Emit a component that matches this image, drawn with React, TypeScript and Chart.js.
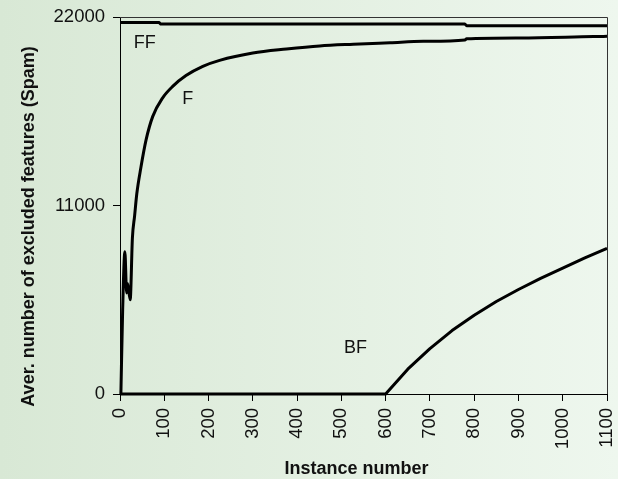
import React, { useEffect, useRef } from "react";
import { Chart, registerables } from "chart.js";

Chart.register(...registerables);

// ---- data ----
const xTickValues = [0, 100, 200, 300, 400, 500, 600, 700, 800, 900, 1000, 1100];
const yTickValues = [0, 11000, 22000];

const ffX = [0, 88, 92, 779, 783, 1100];
const ffY = [21680, 21680, 21590, 21590, 21490, 21490];

const fX = [2, 6, 11, 15, 17, 23, 28, 33, 38, 47, 59, 74, 96, 119, 149, 187, 225, 300, 376, 451, 527, 610, 685, 779, 783, 904, 1070, 1100];
const fY = [0, 4900, 8300, 5900, 6450, 5500, 9100, 10400, 11700, 13190, 14840, 16200, 17270, 17950, 18580, 19120, 19470, 19900, 20130, 20310, 20410, 20500, 20580, 20660, 20730, 20780, 20860, 20870];

const bfX = [0, 600, 650, 700, 750, 800, 850, 900, 950, 1000, 1050, 1100];
const bfY = [0, 0, 1450, 2650, 3700, 4600, 5400, 6100, 6750, 7350, 7950, 8500];

const seriesNames = ["FF", "F", "BF"];
const labelX = [56, 153, 532];
const labelY = [20470, 17230, 2660];

const xTitle = "Instance number";
const yTitle = "Aver. number of excluded features (Spam)";

const FONT = '"Liberation Sans", Arial, Helvetica, sans-serif';

export default function App() {
  const ref = useRef<HTMLCanvasElement>(null);

  useEffect(() => {
    document.body.style.margin = "0";
    const canvas = ref.current!;
    const pts = (xs: number[], ys: number[]) => xs.map((x, i) => ({ x, y: ys[i] }));

    const bgPlugin = {
      id: "bgFill",
      beforeDraw(chart: any) {
        const { ctx, width, height } = chart;
        const g = ctx.createLinearGradient(0, 0, width, 0);
        g.addColorStop(0, "#d8e8d5");
        g.addColorStop(1, "#eef7ee");
        ctx.save();
        ctx.fillStyle = g;
        ctx.fillRect(0, 0, width, height);
        ctx.restore();
      },
    };

    const decoPlugin = {
      id: "deco",
      afterDatasetsDraw(chart: any) {
        const { ctx, chartArea: a, scales } = chart;
        ctx.save();
        ctx.strokeStyle = "#333";
        ctx.lineWidth = 1;
        ctx.beginPath();
        ctx.moveTo(a.left, a.top + 0.5);
        ctx.lineTo(a.right + 0.5, a.top + 0.5);
        ctx.lineTo(a.right + 0.5, a.bottom);
        ctx.stroke();

        ctx.fillStyle = "#111";
        ctx.textAlign = "center";
        ctx.textBaseline = "middle";
        ctx.font = `18px ${FONT}`;
        seriesNames.forEach((n, i) => {
          ctx.fillText(n, scales.x.getPixelForValue(labelX[i]), scales.y.getPixelForValue(labelY[i]));
        });

        ctx.font = `bold 18px ${FONT}`;
        ctx.fillText(xTitle, (a.left + a.right) / 2 - 7, chart.height - 10);
        ctx.translate(29, (a.top + a.bottom) / 2 + 21);
        ctx.rotate(-Math.PI / 2);
        ctx.fillText(yTitle, 0, 0);
        ctx.restore();
      },
    };

    const lineDs = (label: string, data: any[], smooth: boolean) => ({
      label,
      data,
      borderColor: "#000",
      borderWidth: 3,
      pointRadius: 0,
      tension: smooth ? 0.4 : 0,
      cubicInterpolationMode: smooth ? ("monotone" as const) : ("default" as const),
      fill: false,
      clip: false as any,
      borderJoinStyle: "round" as const,
    });

    const chart = new Chart(canvas, {
      type: "line",
      data: {
        datasets: [
          lineDs("FF", pts(ffX, ffY), false),
          lineDs("F", pts(fX, fY), true),
          lineDs("BF", pts(bfX, bfY), false),
        ],
      },
      options: {
        animation: false,
        responsive: false,
        devicePixelRatio: 1,
        layout: { padding: { top: 17, right: 11, left: 0, bottom: 0 } },
        plugins: { legend: { display: false }, tooltip: { enabled: false } },
        scales: {
          x: {
            type: "linear",
            min: 0,
            max: 1100,
            afterBuildTicks: (s: any) => {
              s.ticks = xTickValues.map((v) => ({ value: v }));
            },
            afterFit: (s: any) => {
              s.height = 85;
              s.paddingLeft = 0;
              s.paddingRight = 0;
            },
            ticks: {
              autoSkip: false,
              minRotation: 90,
              maxRotation: 90,
              padding: 7,
              color: "#111",
              font: { size: 18.5, family: FONT },
              callback: (v: any) => String(v),
            },
            grid: { drawOnChartArea: false, drawTicks: true, tickLength: 7, color: "#000", lineWidth: 1 },
            border: { color: "#000", width: 1 },
          },
          y: {
            type: "linear",
            min: 0,
            max: 22000,
            afterBuildTicks: (s: any) => {
              s.ticks = yTickValues.map((v) => ({ value: v }));
            },
            afterFit: (s: any) => {
              s.width = 120;
              s.paddingTop = 0;
              s.paddingBottom = 0;
            },
            ticks: {
              padding: 8,
              color: "#111",
              font: { size: 18.5, family: FONT },
              callback: (v: any) => String(v),
            },
            grid: { drawOnChartArea: false, drawTicks: true, tickLength: 7, color: "#000", lineWidth: 1 },
            border: { color: "#000", width: 1 },
          },
        },
      },
      plugins: [bgPlugin, decoPlugin],
    });

    return () => chart.destroy();
  }, []);

  return (
    <div style={{ width: 618, height: 479 }}>
      <canvas ref={ref} width={618} height={479} style={{ display: "block" }} />
    </div>
  );
}
